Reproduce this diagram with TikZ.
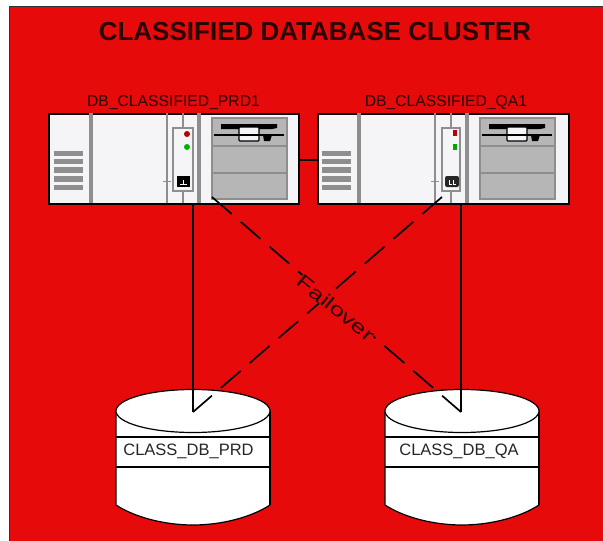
\documentclass[tikz,border=0pt]{standalone}
\usepackage{fontspec}
\setmainfont{Liberation Sans}
\definecolor{bgred}{HTML}{E60A0A}
\definecolor{panel}{HTML}{F5F5F7}
\definecolor{steel}{HTML}{8E8E8E}
\definecolor{block}{HTML}{B6B6B6}
\definecolor{inkred}{HTML}{2A0404}
\tikzset{
  x=1pt,y=-1pt,
  serverbox/.style={draw=black,line width=1.6pt,fill=panel,inner sep=0pt,minimum height=90pt,anchor=north west},
  barline/.style={draw=steel,line width=3.4pt},
  panelline/.style={draw=steel,line width=2pt},
  thin steel/.style={draw=steel,line width=1pt},
  vent/.style={fill=steel,draw=none},
  drive/.style={draw=steel,line width=1.6pt,fill=block},
  srvlabel/.style={font=\fontsize{15.7}{18}\selectfont,text=inkred,inner sep=0pt},
  dblabel/.style={font=\fontsize{16.5}{20}\selectfont,text=black!85,inner sep=0pt},
  link/.style={draw=black,line width=1.6pt},
  linkthick/.style={draw=black,line width=2.4pt},
  failoverline/.style={draw=black,line width=1.7pt,dash pattern=on 26pt off 12pt},
  diskbody/.style={fill=white,draw=black,line width=1.2pt},
}
\newcommand{\serverinside}{%
  \draw[barline] (43,0) -- (43,90);
  \foreach \a/\b in {38/43,46/51,54/60,63/69,72/77}{\fill[vent] (6,\a) rectangle (35,\b);}
  \draw[barline] (151,0) -- (151,90);
  \draw[drive] (164,5) rectangle (239,86);
  \draw[drive] (164,33) -- (239,33);
  \draw[drive] (164,60) -- (239,60);
  \fill[black] (173,11) -- (229,11) -- (229,15) -- (224,16) -- (173,16) -- cycle;
  \draw[black,line width=1.8pt] (166,22) -- (236,22);
  \draw[black,line width=1.3pt,fill=panel,rounded corners=1pt] (191,14) rectangle (211,28);
  \draw[black,line width=1.8pt] (166,22) -- (236,22);
  \fill[black] (215,22) -- (224,22) -- (222,28) -- (216,28) -- cycle;
}
\begin{document}
\begin{tikzpicture}
\useasboundingbox (0,0) rectangle (603,541);
\fill[white] (0,0) rectangle (603,541);
\draw[draw=black!80,fill=bgred,line width=1pt] (9.5,6.5) rectangle (620,560);

\node[font=\bfseries\fontsize{26}{30}\selectfont,text=inkred,inner sep=0pt] (title) at (315,32) {CLASSIFIED DATABASE CLUSTER};
\node[srvlabel] (prdlabel) at (173.5,102.5) {DB\_CLASSIFIED\_PRD1};
\node[srvlabel] (qalabel) at (446,102.5) {DB\_CLASSIFIED\_QA1};

% servers
\node[serverbox,minimum width=250pt] (prd) at (48,113) {};
\node[serverbox,minimum width=251pt] (qa) at (317,113) {};
\draw[link] (prd.east |- 0,160) -- (qa.west |- 0,160);

\begin{scope}[shift={(48,113)}]
  \serverinside
  \draw[panelline] (119,0) -- (119,90);
  \draw[panelline] (135,0) -- (135,15);
  \draw[panelline] (135,78) -- (135,90);
  \draw[panelline,fill=panel] (125,15) rectangle (145,78);
  \draw[thin steel] (115,68) -- (123,68);
  \fill[red!70!black] (139,21) circle (3);
  \fill[green!70!black] (139,34) circle (3);
  \fill[black] (129,63) rectangle (142,74);
  \draw[white,line width=.6pt] (132,71) -- (139,71) (135.5,71) -- (135.5,67);
\end{scope}
\begin{scope}[shift={(316,113)}]
  \serverinside
  \draw[panelline] (119,0) -- (119,90);
  \draw[panelline] (135,0) -- (135,15);
  \draw[panelline] (135,78) -- (135,90);
  \draw[panelline,fill=panel] (126,15) rectangle (144,78);
  \draw[thin steel] (115,68) -- (123,68);
  \fill[red!75!black] (137,17) rectangle (141,23);
  \fill[green!65!black] (137,31) rectangle (141,37);
  \fill[black!85,rounded corners=2pt] (129,63) rectangle (143,74);
  \draw[white,line width=.6pt] (133,67) -- (133,71) -- (136,71) (137,67) -- (137,71) -- (140,71);
\end{scope}

% disks
\newcommand{\disk}[1]{%
\begin{scope}[shift={(#1,0)}]
  \path[diskbody] (0,411) -- (0,505) .. controls (20,518) and (50,525) .. (77,525) .. controls (104,525) and (134,518) .. (154,505) -- (154,411) -- cycle;
  \draw[line width=2.2pt] (154,411) -- (154,505);
  \draw[diskbody] (77,411) ellipse (77 and 21.5);
  \draw[line width=1.2pt] (0,437) -- (154,437);
  \draw[line width=1.2pt] (0,467) -- (154,467);
\end{scope}}
\disk{116}
\disk{385}
\fill[black] (181,435.5) rectangle (206,437.5);
\fill[black] (450,435.5) rectangle (475,437.5);
\node[dblabel] (dbprd) at (188.5,451) {CLASS\_DB\_PRD};
\node[dblabel] (dbqa) at (459,451) {CLASS\_DB\_QA};

\coordinate (prdport) at (193,203);
\coordinate (qaport) at (461,203);
\coordinate (prdcross) at (212,197);
\coordinate (qacross) at (442,197);
\coordinate (prdend) at (193,412);
\coordinate (qaend) at (461,412);

\draw[failoverline] (prdcross) -- (qaend);
\draw[failoverline] (qacross) -- (prdend);
\draw[linkthick] (prdport) -- (prdend);
\draw[linkthick] (qaport) -- (qaend);

\node[fill=bgred,inner sep=0pt,rotate=-39,font=\fontsize{19}{22}\selectfont,text=inkred] (failover) at (336,308) {\scalebox{1.38}[1]{Failover}};
\end{tikzpicture}
\end{document}
